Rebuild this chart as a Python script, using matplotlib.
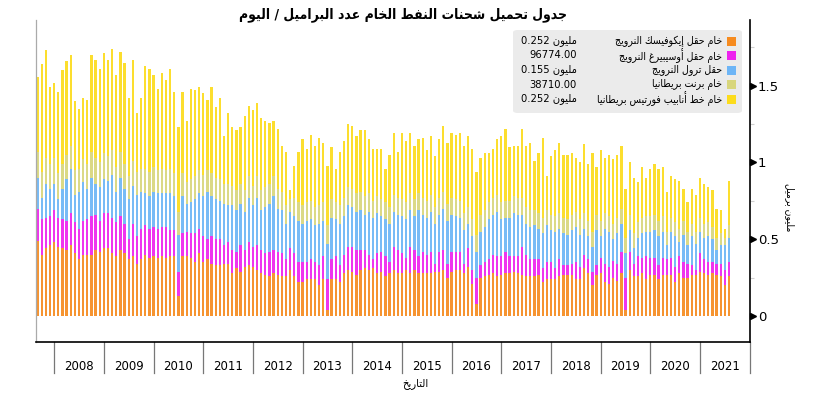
import numpy as np
import matplotlib
matplotlib.use('Agg')
import matplotlib.pyplot as plt
import matplotlib.transforms as mtransforms
from matplotlib.patches import FancyBboxPatch, Rectangle

# monthly loadings, Sep 2007 .. Aug 2021 (million barrels / day)
first_month = 9          # September 2007
years = list(range(2008, 2022))

ekofisk = [
    .49, .40, .44, .46,
    .48, .45, .44, .43, .46, .41, .37, .40, .40, .40, .43, .42,
    .44, .44, .41, .39, .43, .41, .37, .39, .34, .37, .40, .38,
    .39, .38, .39, .38, .39, .39, .13, .39, .39, .38, .35, .41,
    .35, .37, .34, .33, .33, .34, .34, .28, .31, .29, .32, .33,
    .32, .30, .28, .27, .26, .28, .27, .26, .26, .30, .26, .22,
    .22, .24, .24, .24, .20, .24, .04, .24, .24, .22, .28, .30,
    .29, .27, .30, .31, .30, .31, .28, .29, .26, .28, .30, .28,
    .28, .30, .28, .30, .28, .28, .28, .28, .29, .29, .30, .25,
    .29, .30, .30, .28, .32, .21, .08, .25, .26, .27, .28, .26,
    .27, .28, .28, .29, .28, .27, .26, .26, .26, .27, .22, .24,
    .24, .24, .26, .27, .27, .27, .24, .24, .31, .28, .20, .27,
    .28, .22, .21, .25, .23, .28, .04, .30, .26, .26, .28, .24,
    .27, .27, .24, .27, .27, .27, .22, .28, .25, .25, .27, .27,
    .29, .28, .27, .28, .27, .26, .20, .26,
]
oseberg = [
    .21, .23, .20, .19,
    .21, .19, .19, .19, .21, .20, .20, .22, .23, .25, .23, .20,
    .23, .23, .23, .22, .22, .19, .13, .21, .18, .20, .19, .19,
    .19, .19, .19, .20, .17, .17, .16, .15, .16, .16, .19, .16,
    .17, .13, .18, .17, .17, .12, .14, .15, .11, .17, .11, .15,
    .13, .16, .15, .14, .16, .15, .15, .15, .11, .14, .15, .13,
    .13, .11, .13, .11, .13, .15, .20, .13, .15, .11, .12, .15,
    .16, .16, .13, .12, .10, .06, .13, .13, .13, .07, .15, .15,
    .13, .08, .17, .13, .11, .14, .12, .14, .05, .13, .13, .09,
    .13, .12, .12, .06, .12, .09, .17, .08, .09, .10, .12, .13,
    .12, .14, .11, .10, .11, .18, .14, .11, .11, .10, .09, .11,
    .11, .07, .11, .06, .06, .07, .11, .08, .09, .09, .09, .06,
    .10, .12, .11, .11, .11, .14, .21, .12, .08, .13, .10, .15,
    .11, .11, .09, .11, .10, .11, .10, .11, .10, .09, .06, .03,
    .12, .09, .08, .07, .07, .08, .10, .09,
]
troll = [
    .20, .14, .22, .18,
    .17, .12, .20, .27, .29, .18, .24, .25, .20, .25, .20, .22,
    .22, .21, .28, .20, .25, .23, .26, .25, .27, .24, .21, .21,
    .23, .23, .22, .22, .24, .22, .24, .24, .18, .20, .22, .23,
    .26, .31, .26, .26, .25, .27, .24, .29, .27, .27, .25, .29,
    .27, .31, .26, .30, .31, .35, .28, .28, .23, .24, .24, .27,
    .25, .27, .26, .24, .27, .23, .23, .27, .24, .27, .25, .27,
    .26, .25, .26, .23, .28, .27, .26, .23, .24, .25, .23, .23,
    .24, .25, .24, .22, .30, .24, .24, .26, .26, .24, .27, .28,
    .24, .23, .22, .22, .16, .22, .17, .22, .23, .26, .26, .29,
    .24, .22, .25, .28, .27, .21, .20, .21, .22, .20, .23, .24,
    .21, .24, .20, .21, .20, .22, .23, .21, .17, .15, .16, .23,
    .14, .23, .23, .14, .20, .18, .16, .14, .10, .12, .16, .16,
    .17, .18, .19, .17, .09, .17, .20, .09, .18, .12, .19, .17,
    .14, .14, .17, .15, .09, .12, .16, .16,
]
brent = [
    .17, .17, .17, .16,
    .17, .17, .16, .16, .15, .16, .15, .15, .16, .17, .17, .16,
    .17, .16, .16, .16, .17, .16, .15, .16, .15, .15, .16, .16,
    .16, .15, .16, .15, .16, .15, .15, .15, .14, .15, .15, .15,
    .14, .14, .15, .14, .14, .13, .14, .13, .13, .13, .14, .14,
    .13, .14, .13, .13, .13, .13, .13, .12, .12, .08, .12, .12,
    .12, .12, .12, .12, .12, .12, .12, .12, .11, .12, .12, .12,
    .12, .12, .12, .12, .12, .11, .11, .11, .11, .11, .11, .11,
    .11, .11, .11, .11, .11, .11, .11, .11, .11, .11, .11, .11,
    .11, .11, .11, .11, .11, .11, .11, .11, .11, .11, .11, .11,
    .11, .11, .11, .11, .11, .11, .11, .11, .10, .10, .10, .10,
    .10, .10, .10, .10, .10, .10, .10, .10, .10, .10, .10, .10,
    .10, .10, .10, .10, .10, .10, .10, .10, .10, .10, .10, .10,
    .10, .10, .10, .10, .09, .09, .09, .09, .09, .09, .08, .08,
    .09, .09, .09, .08, .08, .08, .05, .08,
]
forties = [
    .49, .70, .70, .50,
    .49, .53, .61, .61, .59, .45, .39, .40, .42, .63, .64, .61,
    .65, .63, .66, .60, .65, .66, .51, .66, .38, .46, .67, .67,
    .60, .53, .62, .59, .65, .53, .55, .53, .40, .59, .56, .54,
    .53, .46, .56, .46, .53, .31, .46, .38, .39, .37, .48, .46,
    .49, .48, .47, .43, .40, .36, .39, .30, .35, .06, .21, .33,
    .43, .35, .43, .40, .44, .39, .39, .34, .22, .35, .37, .41,
    .41, .37, .40, .43, .35, .34, .31, .33, .22, .34, .40, .30,
    .43, .40, .39, .35, .35, .39, .33, .38, .33, .38, .43, .40,
    .42, .42, .44, .44, .46, .46, .41, .37, .37, .32, .32, .36,
    .43, .47, .35, .33, .34, .45, .40, .44, .32, .39, .52, .22,
    .38, .43, .46, .41, .42, .40, .35, .37, .45, .37, .51, .31,
    .46, .36, .40, .42, .41, .41, .32, .34, .36, .26, .33, .25,
    .31, .33, .34, .32, .26, .27, .28, .31, .21, .19, .23, .24,
    .26, .26, .23, .24, .19, .15, .06, .29,
]

series_names = [
    'خام حقل إيكوفيسك النرويج',
    'خام حقل أوسيبيرغ النرويج',
    'حقل ترول النرويج',
    'خام برنت بريطانيا',
    'خام خط أنابيب فورتيس بريطانيا',
]
legend_numbers = ['0.252', '96774.00', '0.155', '38710.00', '0.252']
legend_units = [True, False, True, False, True]
colors = ['#f68b1f', '#ee22ee', '#6db5f6', '#d8d67c', '#fcdc1c']

title = 'جدول تحميل شحنات النفط الخام عدد البراميل / اليوم'
ylabel = 'مليون برميل'
xlabel = 'التاريخ'
unit = 'مليون'

# --- minimal arabic shaping (matplotlib draws glyphs as-is, left to right) ---
FORMS = {
    'ء': (0xFE80, 1), 'آ': (0xFE81, 2), 'أ': (0xFE83, 2), 'ؤ': (0xFE85, 2),
    'إ': (0xFE87, 2), 'ئ': (0xFE89, 4), 'ا': (0xFE8D, 2), 'ب': (0xFE8F, 4),
    'ة': (0xFE93, 2), 'ت': (0xFE95, 4), 'ث': (0xFE99, 4), 'ج': (0xFE9D, 4),
    'ح': (0xFEA1, 4), 'خ': (0xFEA5, 4), 'د': (0xFEA9, 2), 'ذ': (0xFEAB, 2),
    'ر': (0xFEAD, 2), 'ز': (0xFEAF, 2), 'س': (0xFEB1, 4), 'ش': (0xFEB5, 4),
    'ص': (0xFEB9, 4), 'ض': (0xFEBD, 4), 'ط': (0xFEC1, 4), 'ظ': (0xFEC5, 4),
    'ع': (0xFEC9, 4), 'غ': (0xFECD, 4), 'ف': (0xFED1, 4), 'ق': (0xFED5, 4),
    'ك': (0xFED9, 4), 'ل': (0xFEDD, 4), 'م': (0xFEE1, 4), 'ن': (0xFEE5, 4),
    'ه': (0xFEE9, 4), 'و': (0xFEED, 2), 'ى': (0xFEEF, 2), 'ي': (0xFEF1, 4),
}
LAM_ALEF = {'آ': 0xFEF5, 'أ': 0xFEF7, 'إ': 0xFEF9, 'ا': 0xFEFB}


def ar(text):
    out = []
    prev = None
    i = 0
    while i < len(text):
        c = text[i]
        if c not in FORMS:
            out.append(c)
            prev = None
            i += 1
            continue
        join_prev = prev is not None and FORMS[prev][1] == 4
        nxt = text[i + 1] if i + 1 < len(text) else ''
        if c == 'ل' and nxt in LAM_ALEF:
            out.append(chr(LAM_ALEF[nxt] + (1 if join_prev else 0)))
            prev = 'ا'
            i += 2
            continue
        start, n = FORMS[c]
        join_next = n == 4 and nxt in FORMS
        if n == 1:
            form = 0
        elif join_prev and join_next:
            form = 3
        elif join_prev:
            form = 1
        elif join_next:
            form = 2
        else:
            form = 0
        out.append(chr(start + form))
        prev = c
        i += 1
    return ''.join(out)[::-1]


plt.rcParams['font.family'] = ['DejaVu Sans']
AR = dict(fontstretch='condensed')

W, H = 817, 400
fig = plt.figure(figsize=(W / 100, H / 100), dpi=100)
ax_l, ax_r, ax_t, ax_b = 36, 749.7, 20, 342
ax = fig.add_axes([ax_l / W, 1 - ax_b / H, (ax_r - ax_l) / W, (ax_b - ax_t) / H])

x = np.arange(len(ekofisk))
stack = [ekofisk, oseberg, troll, brent, forties]
bottom = np.zeros(len(x))
for vals, col in zip(stack, colors):
    vals = np.array(vals)
    ax.bar(x, vals, width=0.55, bottom=bottom, color=col, linewidth=0, alpha=0.92)
    bottom += vals

n_months = (len(years)) * 12 + (12 - first_month + 1)
ax.set_xlim(-0.4, n_months)
ax.set_ylim(-0.169, 1.928)

ax.spines['top'].set_visible(False)
ax.spines['left'].set_color('#aaaaaa')
ax.spines['left'].set_linewidth(0.9)
ax.spines['right'].set_color('black')
ax.spines['right'].set_linewidth(1.2)
ax.spines['bottom'].set_color('black')
ax.spines['bottom'].set_linewidth(1.2)

# y axis on the right with arrow ticks
ax.yaxis.tick_right()
ax.set_yticks([0, 0.5, 1, 1.5])
ax.set_yticklabels(['0', '0.5', '1', '1.5'])
ax.set_yticks([0.25, 0.75, 1.25, 1.75], minor=True)
ax.tick_params(axis='y', which='major', length=0, pad=6, labelsize=9.5)
ax.tick_params(axis='y', which='minor', length=3, color='#d0d0d0', width=0.8)
ax.tick_params(axis='y', which='both', left=False)
tr_y = mtransforms.blended_transform_factory(ax.transAxes, ax.transData)
ax.plot([1.0045] * 4, [0, 0.5, 1, 1.5], linestyle='none', marker='>', markersize=5,
        color='black', transform=tr_y, clip_on=False)

# year boxes below the axis
ax.set_xticks([])
tr_x = mtransforms.blended_transform_factory(ax.transData, ax.transAxes)
first_jan = 12 - first_month + 1
sep_bottom = -(373 - ax_b) / (ax_b - ax_t)
for k in range(len(years) + 1):
    xs = first_jan + 12 * k
    ax.plot([xs, xs], [0, sep_bottom], color='#777777', linewidth=0.9,
            transform=tr_x, clip_on=False)
for k, yr in enumerate(years):
    ax.text(first_jan + 12 * k + 6, -(366 - ax_b) / (ax_b - ax_t), str(yr),
            transform=tr_x, ha='center', va='center', fontsize=8.5)

fig.text(415 / W, 1 - 384 / H, ar(xlabel), ha='center', va='center', fontsize=8, **AR)
fig.text(790 / W, 1 - 207 / H, ar(ylabel), ha='center', va='center', fontsize=7.5,
         rotation=-90, **AR)
fig.text(403 / W, 1 - 15 / H, ar(title), ha='center', va='center', fontsize=10,
         fontweight='bold', **AR)

# legend box
box = FancyBboxPatch((513 / W, 1 - 113 / H), (742 - 513) / W, 83 / H,
                     boxstyle='round,pad=0,rounding_size=0.006',
                     transform=fig.transFigure, facecolor='#ebebeb',
                     edgecolor='none', zorder=5)
fig.add_artist(box)
row_y = [41, 55.5, 70, 84.5, 99]
for name, num, has_unit, col, ry in zip(series_names, legend_numbers, legend_units,
                                        colors, row_y):
    fig.add_artist(Rectangle((727 / W, 1 - (ry + 4.5) / H), 9 / W, 9 / H,
                             transform=fig.transFigure, facecolor=col,
                             edgecolor='none', zorder=6))
    fig.text(722 / W, 1 - ry / H, ar(name), ha='right', va='center',
             fontsize=7.6, zorder=7, **AR)
    val = num + (' ' + ar(unit) if has_unit else '')
    fig.text(577 / W, 1 - ry / H, val, ha='right', va='center', fontsize=8,
             zorder=7, **AR)

fig.savefig('out.png', dpi=100)
